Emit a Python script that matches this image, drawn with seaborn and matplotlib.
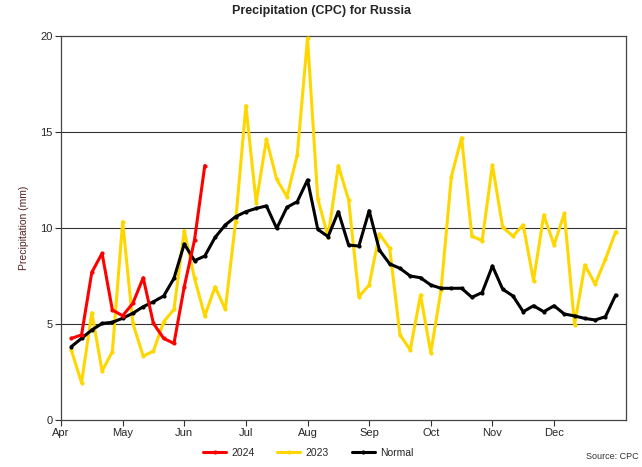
import numpy as np
import pandas as pd
import matplotlib
matplotlib.use("Agg")
import matplotlib.pyplot as plt
import seaborn as sns

# Pentad precipitation (mm), 6 pentads per month, Apr..Dec
months = ['Apr', 'May', 'Jun', 'Jul', 'Aug', 'Sep', 'Oct', 'Nov', 'Dec']

prcp_2024 = [4.25, 4.43, 7.69, 8.68, 5.73, 5.43, 6.08, 7.41, 5.03, 4.25, 3.99, 6.94, 9.38, 13.25]

prcp_2023 = [3.65, 1.94, 5.59, 2.55, 3.56, 10.33, 5.03, 3.33, 3.59, 5.12, 5.76, 9.86,
             7.38, 5.42, 6.94, 5.76, 10.33, 16.37, 11.32, 14.62, 12.53, 11.63, 13.80, 19.88,
             11.51, 9.55, 13.25, 11.46, 6.42, 7.03, 9.69, 8.94, 4.43, 3.65, 6.51, 3.50,
             6.77, 12.67, 14.70, 9.58, 9.34, 13.28, 10.03, 9.58, 10.16, 7.26, 10.68, 9.11,
             10.76, 4.95, 8.07, 7.08, 8.37, 9.81]

prcp_normal = [3.82, 4.25, 4.69, 5.03, 5.09, 5.30, 5.56, 5.90, 6.16, 6.46, 7.38, 9.17,
               8.30, 8.54, 9.51, 10.16, 10.59, 10.85, 11.02, 11.15, 9.98, 11.08, 11.37, 12.50,
               9.93, 9.55, 10.85, 9.11, 9.06, 10.90, 8.85, 8.13, 7.90, 7.50, 7.41, 7.03,
               6.86, 6.86, 6.86, 6.39, 6.64, 8.02, 6.81, 6.46, 5.64, 5.95, 5.64, 5.95,
               5.52, 5.42, 5.29, 5.21, 5.38, 6.51]

sns.set_style("white")
plt.rcParams['font.family'] = ['Liberation Sans', 'DejaVu Sans']

fig = plt.figure(figsize=(6.42, 4.67), dpi=100)
ax = fig.add_axes([0.095, 0.1006, 0.88, 0.8224])

# horizontal grid lines
for yv in [5, 10, 15]:
    ax.axhline(yv, color='#333333', lw=0.8, zorder=1)

x23 = np.arange(1, len(prcp_2023) + 1)
xn = np.arange(1, len(prcp_normal) + 1)
x24 = np.arange(1, len(prcp_2024) + 1)

sns.lineplot(x=x23, y=prcp_2023, ax=ax, color='#FFD700', lw=2.2, marker='o',
             markersize=3, markeredgewidth=0, label='2023', zorder=3)
sns.lineplot(x=xn, y=prcp_normal, ax=ax, color='black', lw=2.2, marker='o',
             markersize=3, markeredgewidth=0, label='Normal', zorder=4)
sns.lineplot(x=x24, y=prcp_2024, ax=ax, color='#FF0000', lw=2.2, marker='o',
             markersize=3, markeredgewidth=0, label='2024', zorder=5)

ax.set_xlim(0, 55)
ax.set_ylim(0, 20)
ax.set_xticks(np.arange(0, 54, 6))
ax.set_xticklabels(months)
ax.set_yticks([0, 5, 10, 15, 20])
ax.tick_params(axis='both', which='both', direction='out', length=4, width=0.8,
               labelsize=8, color='#333333', pad=2, bottom=True, left=True)
for s in ax.spines.values():
    s.set_color('#444444')
    s.set_linewidth(0.9)

ax.set_ylabel('Precipitation (mm)', fontsize=7.5, color='#552222', labelpad=8)
ax.set_xlabel('')
fig.suptitle('Precipitation (CPC) for Russia', fontsize=9, fontweight='bold', y=0.99)

handles, labels = ax.get_legend_handles_labels()
order = [labels.index(l) for l in ['2024', '2023', 'Normal']]
ax.legend_.remove()
fig.legend([handles[i] for i in order], [labels[i] for i in order], loc='center',
           bbox_to_anchor=(0.48, 0.03), ncol=3, frameon=False, fontsize=7.5,
           handlelength=2.2, columnspacing=2.2, handletextpad=0.5)

fig.text(0.995, 0.022, 'Source: CPC', ha='right', va='center', fontsize=6.5, color='#333333')

fig.savefig('out.png', dpi=100)
